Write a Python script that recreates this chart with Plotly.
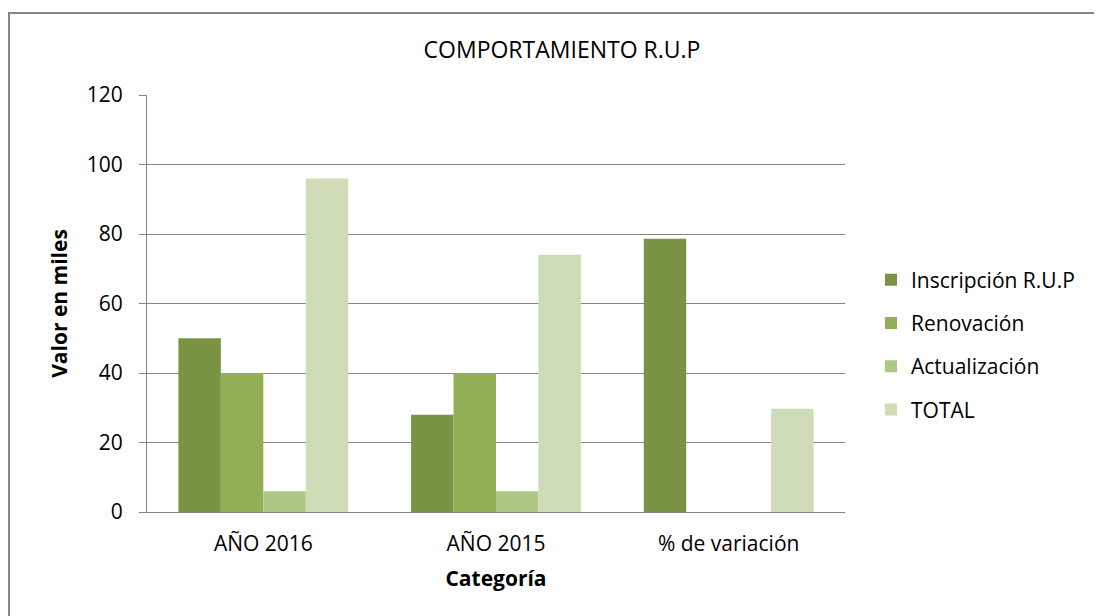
import plotly.graph_objects as go

categories = ["AÑO 2016", "AÑO 2015", "% de variación"]
inscripcion = [50, 28, 78.6]
renovacion = [40, 40, 0]
actualizacion = [6, 6, 0]
total = [96, 74, 29.7]

series_names = ["Inscripción R.U.P", "Renovación", "Actualización", "TOTAL"]
series_values = [inscripcion, renovacion, actualizacion, total]
colors = ["#7B9344", "#93AF56", "#AEC784", "#CEDCB8"]
y_ticks = [0, 20, 40, 60, 80, 100, 120]

FONT = "Open Sans"
W, H = 1094, 608
L, R, T, B = 139, 257, 87, 104
PW, PH = W - L - R, H - T - B

fig = go.Figure()
for i, (name, vals, col) in enumerate(zip(series_names, series_values, colors)):
    fig.add_trace(go.Bar(
        x=categories, y=vals, name=name,
        marker=dict(color=col, line=dict(width=0)),
        legendgroup=f"g{i}",
    ))

fig.update_layout(
    width=W, height=H,
    paper_bgcolor="white", plot_bgcolor="white",
    margin=dict(l=L, r=R, t=T, b=B, autoexpand=False),
    barmode="group", bargap=0.27, bargroupgap=0,
    font=dict(family=FONT, color="#000000", size=21),
    title=dict(text="COMPORTAMIENTO R.U.P", x=(562 - 8) / W, xanchor="center",
               y=1 - 42 / H, yanchor="middle",
               font=dict(family=FONT, size=23, color="#000000")),
    showlegend=True,
    legend=dict(x=(863 - L) / PW, y=(T + PH - 337) / PH, xanchor="left", yanchor="middle",
                traceorder="grouped", tracegroupgap=13,
                font=dict(family=FONT, size=21, color="#000000"),
                itemwidth=30, bgcolor="rgba(0,0,0,0)"),
    xaxis=dict(
        title=dict(text="<b>Categoría</b>", standoff=15,
                   font=dict(family=FONT, size=21)),
        showline=True, linecolor="#868686", linewidth=1,
        ticks="", showgrid=False, ticklabelstandoff=13,
        tickfont=dict(family=FONT, size=21),
    ),
    yaxis=dict(
        title=dict(text="<b>Valor en miles</b>", standoff=13,
                   font=dict(family=FONT, size=21)),
        range=[0, 120], tickvals=y_ticks,
        showline=True, linecolor="#868686", linewidth=1,
        ticks="outside", ticklen=7, tickcolor="#868686",
        ticklabelstandoff=12,
        showgrid=True, gridcolor="#868686", gridwidth=1,
        zeroline=False,
        tickfont=dict(family=FONT, size=21),
    ),
)

fig.add_shape(type="rect", xref="paper", yref="paper",
              x0=(1 - L) / PW, x1=1.6, y0=-0.5, y1=1 + (T - 5) / PH,
              line=dict(color="#868686", width=2), fillcolor="rgba(0,0,0,0)",
              layer="below")

fig.write_html("out.html")
